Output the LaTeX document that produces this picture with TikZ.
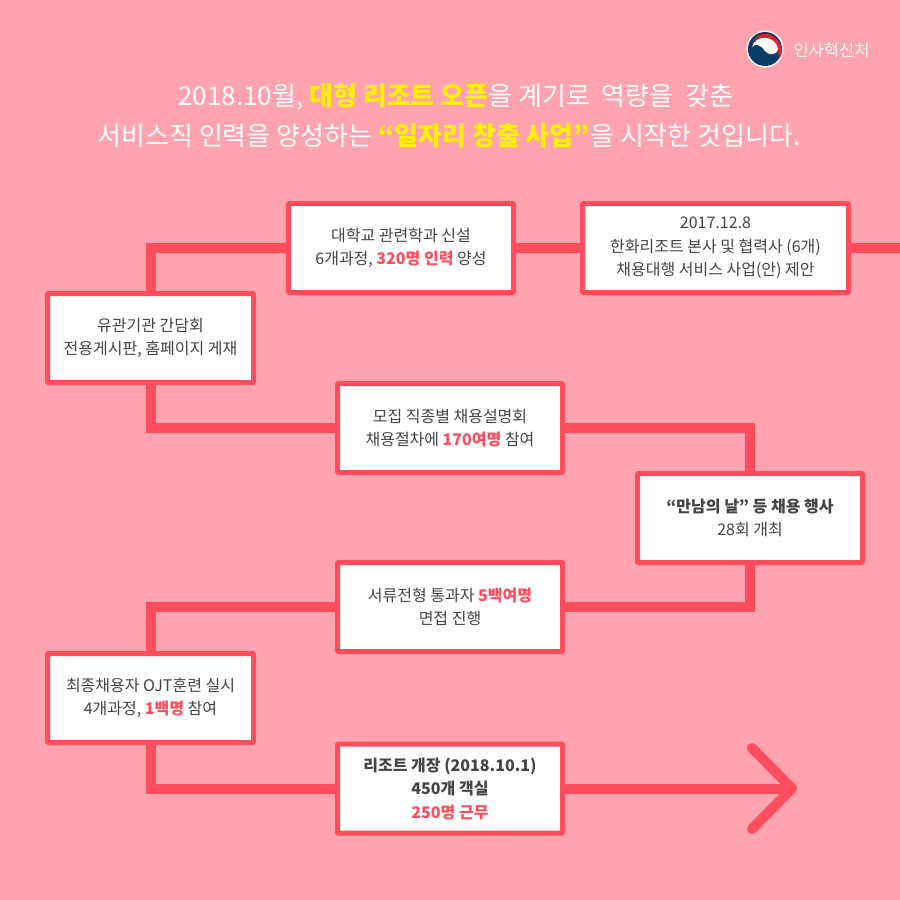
\documentclass[tikz,border=0pt]{standalone}
\usepackage{fontspec}
\setmainfont{Noto Sans CJK KR}
\definecolor{bgpink}{HTML}{FFA3AE}
\definecolor{linered}{HTML}{FF4D5E}
\definecolor{boxtext}{HTML}{444444}
\definecolor{titleyellow}{HTML}{FFF200}
\definecolor{logonavy}{HTML}{0B3A66}
\definecolor{logored}{HTML}{D9252F}
\newcommand{\hot}[1]{{\bfseries\color{linered}#1}}
\newcommand{\hil}[1]{{\bfseries\color{titleyellow}#1}}
\tikzset{
    stepbox/.style={draw=linered, fill=white, line width=5pt, rounded corners=1pt, align=center,
        text=boxtext, inner sep=0pt, minimum height=89pt, font=\fontsize{16}{23.5}\selectfont},
    link/.style={draw=linered, line width=10pt},
    tip/.style={draw=linered, line width=10pt, line cap=round, line join=round}
}
\begin{document}
\begin{tikzpicture}[x=1pt, y=-1pt]
        \fill[bgpink] (0, 0) rectangle (900, 900);
        \useasboundingbox (0, 0) rectangle (900, 900);

        % logo
        \fill[white] (765, 49) circle (18.5);
        \fill[logonavy] (765, 49) circle (17);
        \fill[logored] (753, 41) .. controls (759, 30) and (777, 31) .. (782, 49) .. controls (782, 53) and (781, 57) .. (779, 59) .. controls (779, 43) and (763, 33) .. (753, 41) -- cycle;
        \fill[white] (752, 47) .. controls (755, 34) and (776, 35) .. (778, 49) .. controls (778, 55) and (768, 56) .. (765, 51) .. controls (762, 45) and (754, 43) .. (752, 47) -- cycle;
        \node[text=white, font=\fontsize{16.5}{18}\selectfont] (brand) at (831.5, 50) {인사혁신처};

        % title
        \node[text=white, align=center, font=\fontsize{26}{40}\selectfont] (title) at (449, 116)
            {\hspace*{14pt}2018.10월, \hil{대형 리조트 오픈}을 계기로\hspace{6pt} 역량을\hspace{6pt} 갖춘\\
             서비스직 인력을 양성하는 \hil{“일자리 창출 사업”}을 시작한 것입니다.};

        % boxes
        \node[stepbox, minimum width=225pt] (univ) at (401, 248) {대학교 관련학과 신설\\6개과정, \hot{320명 인력} 양성};
        \node[stepbox, minimum width=266pt] (hanwha) at (715.5, 248) {2017.12.8\\한화리조트 본사 및 협력사 (6개)\\채용대행 서비스 사업(안) 제안};
        \node[stepbox, minimum width=206pt] (talk) at (150.5, 338) {유관기관 간담회\\전용게시판, 홈페이지 게재};
        \node[stepbox, minimum width=225pt] (fair) at (450, 428) {모집 직종별 채용설명회\\채용절차에 \hot{170여명} 참여};
        \node[stepbox, minimum width=225pt] (meet) at (750, 518) {{\bfseries “만남의 날” 등 채용 행사}\\28회 개최};
        \node[stepbox, minimum width=225pt] (paper) at (450, 607) {서류전형 통과자 \hot{5백여명}\\면접 진행};
        \node[stepbox, minimum width=206pt] (ojt) at (150.5, 698) {최종채용자 OJT훈련 실시\\4개과정, \hot{1백명} 참여};
        \node[stepbox, minimum width=225pt] (open) at (450, 788.5) {{\bfseries 리조트 개장 (2018.10.1)}\\{\bfseries 450개 객실}\\\hot{250명 근무}};

        \coordinate (edge) at (900, 248);
        \coordinate (head) at (792, 788.5);
        \coordinate (headup) at (752, 748);
        \coordinate (headdown) at (752, 829);

        % connectors
        \draw[link] (talk.north) |- (univ.west);
        \draw[link] (univ.east) -- (hanwha.west);
        \draw[link] (hanwha.east) -- (edge);
        \draw[link] (talk.south) |- (fair.west);
        \draw[link] (fair.east) -| (meet.north);
        \draw[link] (meet.south) |- (paper.east);
        \draw[link] (paper.west) -| (ojt.north);
        \draw[link] (ojt.south) |- (open.west);
        \draw[link] (open.east) -- (head);
        \draw[tip] (headup) -- (head) -- (headdown);
    \end{tikzpicture}
\end{document}
